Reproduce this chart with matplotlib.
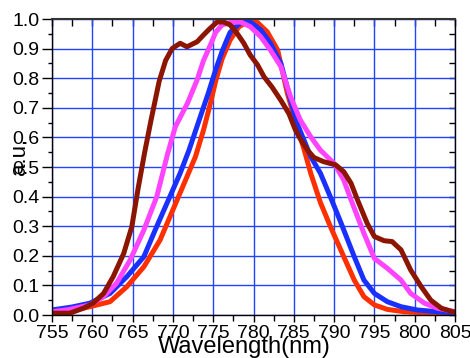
import matplotlib
matplotlib.use("Agg")
import matplotlib.pyplot as plt
from matplotlib.ticker import MultipleLocator

plt.rcParams['font.family'] = ['Liberation Sans', 'DejaVu Sans']

# ---- data ----
red_x = [755, 757.5, 759.7, 762.2, 764.3, 766.4, 768.4, 770.7, 772.8, 773.8, 774.7, 775.3,
         776.1, 777.1, 778.2, 779.2, 780.5, 781.7, 783.0, 784.2, 785.4, 786.3, 787.1, 788.3,
         789.6, 791.2, 792.5, 793.7, 795.0, 796.6, 798.7, 800.8, 804.7, 805]
red_y = [0.006, 0.015, 0.028, 0.045, 0.096, 0.163, 0.253, 0.40, 0.535, 0.625, 0.72, 0.79,
         0.865, 0.929, 0.974, 0.99, 0.988, 0.957, 0.895, 0.749, 0.636, 0.557, 0.479, 0.38,
         0.295, 0.197, 0.118, 0.062, 0.034, 0.019, 0.011, 0.008, 0.005, 0.005]

blue_x = [755, 757.5, 759.7, 762.2, 764.3, 766.4, 767.8, 770.9, 772.0, 773.4, 774.4, 775.3,
          776.1, 776.7, 777.1, 778.4, 779.6, 780.9, 782.1, 783.4, 784.6, 785.4, 787.1, 788.3,
          789.6, 790.8, 792.5, 793.7, 795.0, 796.6, 798.3, 800.3, 802.8, 804.7, 805]
blue_y = [0.017, 0.027, 0.04, 0.073, 0.13, 0.197, 0.287, 0.479, 0.557, 0.67, 0.75, 0.828,
          0.89, 0.93, 0.955, 0.988, 0.99, 0.963, 0.918, 0.85, 0.726, 0.648, 0.535, 0.479,
          0.395, 0.315, 0.197, 0.118, 0.073, 0.045, 0.028, 0.017, 0.011, 0.008, 0.008]

magenta_x = [755, 757.0, 759.7, 761.4, 763.0, 764.7, 766.4, 768.0, 769.3, 770.3, 771.8, 773.0,
             773.8, 774.7, 775.3, 776.1, 777.1, 778.4, 779.6, 780.9, 782.1, 783.4, 784.6,
             785.8, 787.1, 788.3, 790.0, 791.2, 792.1, 793.7, 795.0, 796.6, 798.3, 799.5,
             801.2, 802.8, 804.7, 805]
magenta_y = [0.011, 0.018, 0.034, 0.062, 0.107, 0.186, 0.287, 0.40, 0.54, 0.636, 0.715, 0.794,
             0.86, 0.915, 0.955, 0.98, 0.988, 0.99, 0.974, 0.94, 0.895, 0.839, 0.737,
             0.659, 0.602, 0.557, 0.512, 0.456, 0.389, 0.276, 0.191, 0.158, 0.118, 0.073,
             0.04, 0.023, 0.013, 0.012]

brown_x = [755, 757.2, 758.9, 760.1, 761.4, 762.6, 763.9, 764.9, 765.7, 766.5, 767.3, 768.3,
           769.1, 769.9, 770.9, 771.75, 772.4, 773.0, 773.8, 774.6, 775.5, 776.3, 777.1, 778.0,
           778.8, 779.6, 780.5, 781.3, 782.3, 783.4, 784.4, 785.2, 785.8, 786.7, 787.5, 788.7,
           790.2, 791.2, 792.1, 792.9, 794.1, 795.0, 796.2, 797.2, 798.3, 799.5, 800.8, 802.0,
           803.3, 804.7, 805]
brown_y = [0.006, 0.006, 0.023, 0.04, 0.073, 0.13, 0.208, 0.298, 0.43, 0.55, 0.66, 0.79,
           0.86, 0.90, 0.918, 0.906, 0.915, 0.923, 0.946, 0.968, 0.99, 0.99, 0.98, 0.95,
           0.918, 0.878, 0.845, 0.805, 0.77, 0.725, 0.68, 0.625, 0.595, 0.557, 0.532, 0.518,
           0.507, 0.484, 0.445, 0.389, 0.31, 0.265, 0.251, 0.248, 0.22, 0.152, 0.096, 0.05,
           0.023, 0.011, 0.01]

x_ticks = [755, 760, 765, 770, 775, 780, 785, 790, 795, 800, 805]
y_ticks = [0.0, 0.1, 0.2, 0.3, 0.4, 0.5, 0.6, 0.7, 0.8, 0.9, 1.0]

fig = plt.figure(figsize=(4.7, 3.58), dpi=100)
ax = fig.add_axes([52/470, 43/358, 403/470, 296/358])

grid_c = '#2244ff'
ax.set_axisbelow(True)
ax.grid(True, which='major', color=grid_c, linewidth=1.0)

lw = 3.6
ax.plot(red_x, red_y, color='#ff3000', lw=lw, solid_joinstyle='round')
ax.plot(blue_x, blue_y, color='#1a30ff', lw=lw, solid_joinstyle='round')
ax.plot(magenta_x, magenta_y, color='#ff44ff', lw=lw, solid_joinstyle='round')
ax.plot(brown_x, brown_y, color='#8b1500', lw=lw, solid_joinstyle='round')

ax.set_xlim(755, 805)
ax.set_ylim(0, 1.0)
ax.set_xticks(x_ticks)
ax.set_yticks(y_ticks)
ax.set_xticklabels([str(v) for v in x_ticks])
ax.set_yticklabels([f"{v:.1f}" for v in y_ticks])
ax.xaxis.set_minor_locator(MultipleLocator(2.5))
ax.yaxis.set_minor_locator(MultipleLocator(0.05))

ax.tick_params(axis='x', which='major', direction='out', length=5, width=1, pad=2,
               labelsize=14, top=False)
ax.tick_params(axis='x', which='minor', direction='out', length=4, width=1, top=False)
ax.tick_params(axis='y', which='major', direction='out', length=7, width=1, pad=2,
               labelsize=14, right=False)
ax.tick_params(axis='y', which='minor', direction='out', length=3, width=1, right=False)

for s in ax.spines.values():
    s.set_color('black')
    s.set_linewidth(1.0)
ax.spines['top'].set_color('#333333')
ax.spines['top'].set_linewidth(1.5)

top = ax.secondary_xaxis('top')
top.set_xticks(x_ticks)
top.xaxis.set_minor_locator(MultipleLocator(2.5))
top.tick_params(which='both', direction='in', length=5, width=1, labeltop=False)
top.spines['top'].set_visible(False)

right = ax.secondary_yaxis('right')
right.set_yticks(y_ticks)
right.yaxis.set_minor_locator(MultipleLocator(0.05))
right.tick_params(which='both', direction='in', length=4, width=1, labelright=False)
right.spines['right'].set_visible(False)

fig.text(244/470, 5/358, 'Wavelength(nm)', ha='center', va='baseline', fontsize=17)
fig.text(19/470, (358-156)/358, 'a.u.', ha='center', va='center', rotation=90, fontsize=16)

fig.savefig('out.png', dpi=100)
